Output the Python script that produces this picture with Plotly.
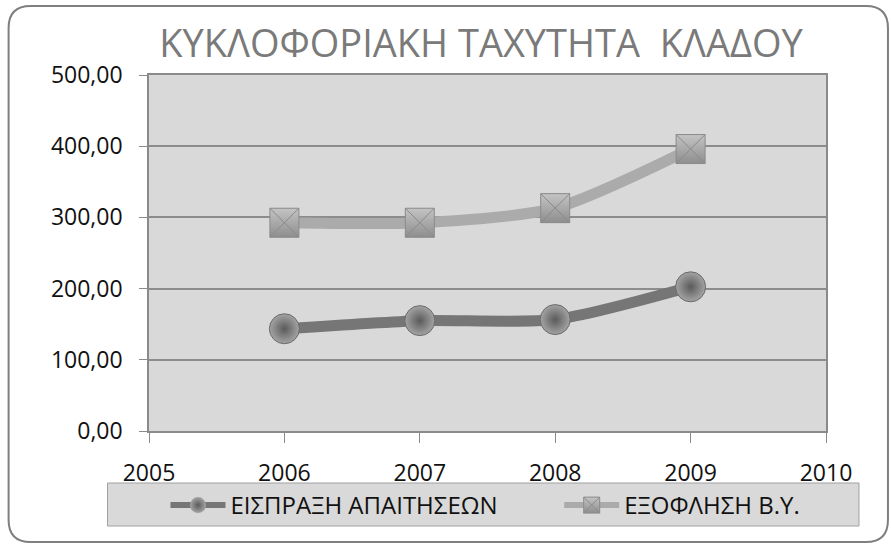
import plotly.graph_objects as go

# Circulation velocity of the sector, days
years = [2006, 2007, 2008, 2009]
receivables = [143.6, 155.0, 156.5, 202.5]   # ΕΙΣΠΡΑΞΗ ΑΠΑΙΤΗΣΕΩΝ
payables = [292.5, 292.5, 313.0, 396.0]      # ΕΞΟΦΛΗΣΗ Β.Υ.

name_rec = "ΕΙΣΠΡΑΞΗ ΑΠΑΙΤΗΣΕΩΝ"
name_pay = "ΕΞΟΦΛΗΣΗ Β.Υ."
title_text = "ΚΥΚΛΟΦΟΡΙΑΚΗ ΤΑΧΥΤΗΤΑ  ΚΛΑΔΟΥ"

W, H = 891, 545
L, R, T, B = 148.5, 826, 75, 431  # plot area in pixels
FONT = "Open Sans"


def px(x):
    return (x - L) / (R - L)


def py(y):
    return (B - y) / (B - T)


fig = go.Figure()

dark = "#767676"
light = "#ababab"

# data traces
fig.add_trace(go.Scatter(
    x=years, y=receivables, mode="lines+markers", name=name_rec,
    line=dict(color=dark, width=11, shape="spline", smoothing=0.7),
    marker=dict(symbol="circle", size=30, color="#a4a4a4",
                gradient=dict(type="radial", color="#5a5a5a"),
                line=dict(width=1, color="#6a6a6a")),
    showlegend=False, cliponaxis=False,
))
fig.add_trace(go.Scatter(
    x=years, y=payables, mode="lines+markers", name=name_pay,
    line=dict(color=light, width=11, shape="spline", smoothing=0.7),
    marker=dict(symbol="square-x", size=29, color="#c4c4c4",
                gradient=dict(type="vertical", color="#8e8e8e"),
                line=dict(width=1, color="#8a8a8a")),
    showlegend=False, cliponaxis=False,
))

# legend entries, one legend per series
fig.add_trace(go.Scatter(
    x=[None], y=[None], mode="lines+markers", name=name_rec,
    line=dict(color=dark, width=6),
    marker=dict(symbol="circle", size=16, color="#a4a4a4",
                gradient=dict(type="radial", color="#5a5a5a")),
    legend="legend",
))
fig.add_trace(go.Scatter(
    x=[None], y=[None], mode="lines+markers", name=name_pay,
    line=dict(color=light, width=6),
    marker=dict(symbol="square-x", size=16, color="#c4c4c4",
                gradient=dict(type="vertical", color="#8e8e8e"),
                line=dict(width=1, color="#8a8a8a")),
    legend="legend2",
))

# rounded chart frame
x0, x1, y0, y1, r = 8, 888, 6, 542, 22
path = (
    f"M {px(x0 + r)},{py(y0)} L {px(x1 - r)},{py(y0)} "
    f"Q {px(x1)},{py(y0)} {px(x1)},{py(y0 + r)} "
    f"L {px(x1)},{py(y1 - r)} Q {px(x1)},{py(y1)} {px(x1 - r)},{py(y1)} "
    f"L {px(x0 + r)},{py(y1)} Q {px(x0)},{py(y1)} {px(x0)},{py(y1 - r)} "
    f"L {px(x0)},{py(y0 + r)} Q {px(x0)},{py(y0)} {px(x0 + r)},{py(y0)} Z"
)
shapes = [
    dict(type="path", xref="paper", yref="paper", path=path,
         line=dict(color="#7f7f7f", width=2), fillcolor="rgba(0,0,0,0)", layer="below"),
    # legend box
    dict(type="rect", xref="paper", yref="paper",
         x0=px(107), x1=px(859), y0=py(526), y1=py(483),
         line=dict(color="#a0a0a0", width=1), fillcolor="#d9d9d9", layer="below"),
]

legend_style = dict(orientation="h", xanchor="left", y=py(505.5), yanchor="middle",
                    bgcolor="rgba(0,0,0,0)", itemwidth=55,
                    font=dict(family=FONT, size=24, color="#111111"))

fig.update_layout(
    width=W, height=H,
    margin=dict(l=L, r=W - R, t=T, b=H - B, autoexpand=False),
    paper_bgcolor="white",
    plot_bgcolor="#d9d9d9",
    separators=",.",
    font=dict(family=FONT, size=23, color="#111111"),
    title=dict(text=title_text, x=481 / W, xanchor="center",
               y=1 - 44 / H, yanchor="middle",
               font=dict(family=FONT, size=38, color="#7a7a7a")),
    xaxis=dict(range=[2005, 2010], dtick=1, tick0=2005, showgrid=False,
               zeroline=False, showline=True, linecolor="#8a8a8a", linewidth=1.5,
               mirror=True, ticks="outside", ticklen=10, tickcolor="#8a8a8a",
               tickfont=dict(size=23), ticklabelstandoff=11),
    yaxis=dict(range=[0, 500], dtick=100, tickformat=".2f", showgrid=True,
               gridcolor="#8c8c8c", gridwidth=1.5, zeroline=False,
               showline=True, linecolor="#8a8a8a", linewidth=1.5, mirror=True,
               ticks="outside", ticklen=8, tickcolor="#8a8a8a",
               tickfont=dict(size=23), ticklabelstandoff=12),
    legend=dict(legend_style, x=px(165)),
    legend2=dict(legend_style, x=px(559)),
    shapes=shapes,
)

fig.write_html("out.html")
